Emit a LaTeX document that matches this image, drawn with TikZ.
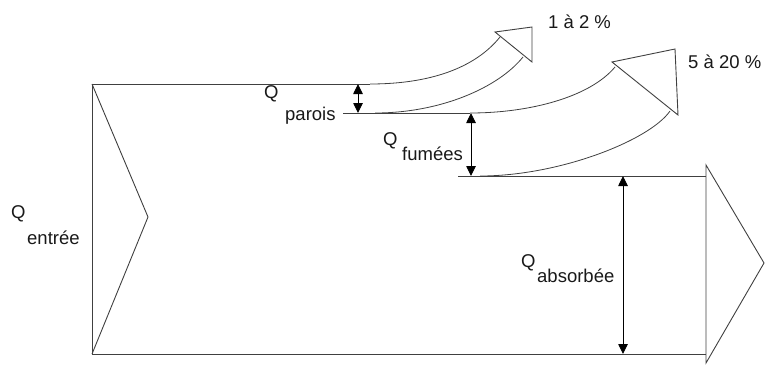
\documentclass[tikz,border=0pt]{standalone}
\usepackage{fontspec}
\setmainfont{Liberation Sans}
\usetikzlibrary{arrows.meta}
\begin{document}
\begin{tikzpicture}[x=1pt,y=-1pt,
  outline/.style={draw=black!75,line width=0.9pt,line join=miter},
  flowcurve/.style={draw=black!75,line width=0.8pt},
  dimarrow/.style={draw=black,line width=0.9pt,{Triangle[length=10pt,width=9.5pt]}-{Triangle[length=10pt,width=9.5pt]}},
  lbl/.style={anchor=base west,inner sep=0pt,text=black!90,font=\fontsize{18.5}{22}\selectfont}]
\useasboundingbox (0,0) rectangle (765,365);
% main body
\coordinate (tl) at (92,84);
\coordinate (bl) at (92,354);
\coordinate (notch) at (148,217);
\draw[outline] (tl) -- (bl);
\draw[outline] (tl) -- (notch) -- (bl);
\draw[outline] (tl) -- (370,84);
\draw[outline] (bl) -- (706,354);
% level lines
\draw[outline] (343,113) -- (470,113);
\draw[outline] (458,176) -- (706,176);
% right output arrow
\draw[outline] (706,165) -- (706,363) -- (764,263) -- cycle;
% loss arrow 1
\draw[flowcurve] (370,84) .. controls (430,84) and (475,68) .. (500,37);
\draw[flowcurve] (375,113) .. controls (440,113) and (498,88) .. (523,57);
\draw[outline] (495,32) -- (532,27) -- (532,62) -- cycle;
% loss arrow 2
\draw[flowcurve] (470,113) .. controls (530,113) and (590,97) .. (615,67);
\draw[flowcurve] (480,176) .. controls (560,176) and (650,140) .. (670,111);
\draw[outline] (612,62) -- (675,49) -- (678,115) -- cycle;
% dimension arrows
\draw[dimarrow] (358,84) -- (358,113);
\draw[dimarrow] (471,113) -- (471,176);
\draw[dimarrow] (623,176) -- (623,354);
% labels
\node[lbl] (qe) at (11,218) {Q};
\node[lbl] (qes) at (27,244) {entrée};
\node[lbl] (qp) at (264,98) {Q};
\node[lbl] (qps) at (285,120) {parois};
\node[lbl] (qf) at (383,145) {Q};
\node[lbl] (qfs) at (402,160) {fumées};
\node[lbl] (qa) at (521,267) {Q};
\node[lbl] (qas) at (537,282) {absorbée};
\node[lbl] (p1) at (548,28) {1 à 2 \%};
\node[lbl] (p2) at (688,68) {5 à 20 \%};
\end{tikzpicture}
\end{document}
